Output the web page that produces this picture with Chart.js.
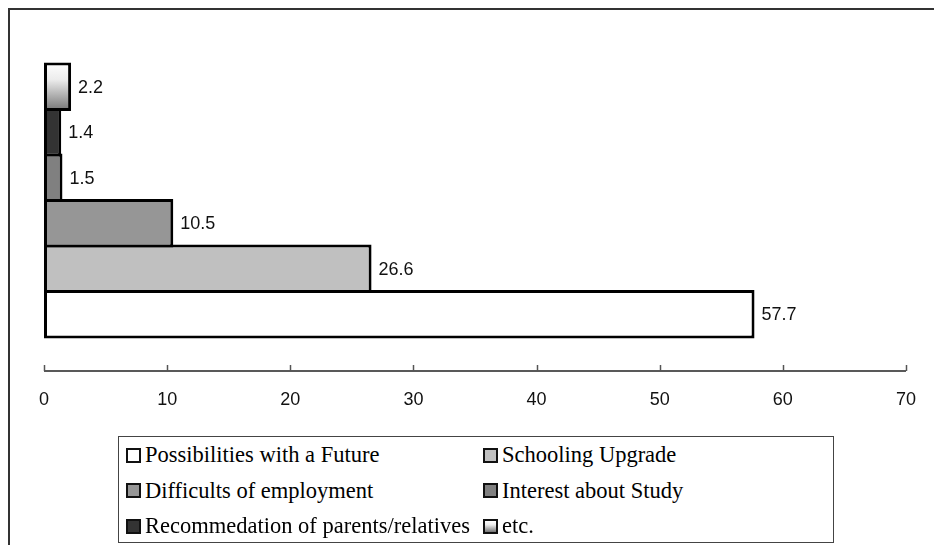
<!DOCTYPE html>
<html>
<head>
<meta charset="utf-8">
<script src="https://cdn.jsdelivr.net/npm/chart.js@4/dist/chart.umd.min.js"></script>
<style>
  html, body { margin: 0; padding: 0; background: #fff; overflow: hidden; }
  #wrap { position: relative; width: 934px; height: 545px; overflow: hidden; background: #fff; }
  #frame { position: absolute; left: 8px; top: 8px; width: 1000px; height: 620px; border: 2px solid #333; box-sizing: border-box; }
  canvas { position: absolute; left: 0; top: 0; }
  #legend { position: absolute; left: 118px; top: 436px; width: 716px; height: 107px; border: 1px solid #444; box-sizing: border-box; background: #fff;
            font-family: "Liberation Serif", "Times New Roman", serif; font-size: 22.5px; color: #000; }
  .item { position: absolute; display: flex; align-items: center; height: 36px; white-space: nowrap; }
  .sw { width: 15px; height: 15px; border: 2px solid #111; box-sizing: border-box; margin-right: 4px; flex: none; }
</style>
</head>
<body>
<div id="wrap">
  <div id="frame"></div>
  <canvas id="c" width="934" height="545"></canvas>
  <div id="legend"></div>
</div>
<script>
// Reasons given, in legend order
const categories = [
  'Possibilities with a Future',
  'Schooling Upgrade',
  'Difficults of employment',
  'Interest about Study',
  'Recommedation of parents/relatives',
  'etc.'
];
// Share of answers (%)
const values = [57.7, 26.6, 10.5, 1.5, 1.4, 2.2];
// Fill per series; "gradient" marks the shaded one
const fills = ['#ffffff', '#c0c0c0', '#969696', '#808080', '#333333', 'gradient'];
// Value axis ticks
const xTicks = [0, 10, 20, 30, 40, 50, 60, 70];

const gradStops = [[0, '#ffffff'], [0.35, '#ececec'], [1, '#747474']];

function gradientFill(context) {
  const el = context.element || context.chart.getDatasetMeta(context.datasetIndex).data[context.dataIndex];
  if (!el || !isFinite(el.y) || !isFinite(el.height)) return '#cccccc';
  const g = context.chart.ctx.createLinearGradient(0, el.y - el.height / 2, 0, el.y + el.height / 2);
  gradStops.forEach(([o, c]) => g.addColorStop(o, c));
  return g;
}

// Datasets listed top to bottom, so the last reason sits on top.
// Bars are a border-width taller than their slot so neighbours share one outline.
const order = categories.map((_, i) => i).reverse();
const datasets = order.map(i => ({
  label: categories[i],
  data: [values[i]],
  backgroundColor: fills[i] === 'gradient' ? gradientFill : fills[i],
  borderColor: '#000',
  borderWidth: 3,
  borderSkipped: false,
  categoryPercentage: 0.8,
  barPercentage: 1.066
}));

const axisAndLabels = {
  id: 'axisAndLabels',
  afterDatasetsDraw(chart) {
    const { ctx, chartArea, scales: { x } } = chart;
    const y0 = chartArea.bottom;
    ctx.save();
    ctx.strokeStyle = '#222';
    ctx.lineWidth = 1.5;
    ctx.beginPath();
    ctx.moveTo(x.getPixelForValue(xTicks[0]), y0);
    ctx.lineTo(x.getPixelForValue(xTicks[xTicks.length - 1]), y0);
    ctx.stroke();
    ctx.strokeStyle = '#555';
    xTicks.forEach(v => {
      const px = Math.round(x.getPixelForValue(v)) + 0.5;
      ctx.beginPath();
      ctx.moveTo(px, y0);
      ctx.lineTo(px, y0 - 6);
      ctx.stroke();
    });
    ctx.font = '18px "Liberation Sans", Arial, sans-serif';
    ctx.fillStyle = '#111';
    ctx.textAlign = 'left';
    ctx.textBaseline = 'middle';
    chart.data.datasets.forEach((ds, i) => {
      const el = chart.getDatasetMeta(i).data[0];
      ctx.fillText(ds.data[0].toFixed(1), el.x + 7, el.y + 1);
    });
    ctx.restore();
  }
};

const chart = new Chart(document.getElementById('c'), {
  type: 'bar',
  data: { labels: [''], datasets },
  options: {
    indexAxis: 'y',
    responsive: false,
    animation: false,
    events: [],
    layout: { padding: { left: 44, right: 25, top: 30, bottom: 0 } },
    plugins: { legend: { display: false }, tooltip: { enabled: false } },
    scales: {
      x: {
        min: xTicks[0],
        max: xTicks[xTicks.length - 1],
        grid: { display: false, drawTicks: false },
        border: { display: false },
        ticks: {
          padding: 18,
          color: '#111',
          maxRotation: 0,
          autoSkip: false,
          font: { family: '"Liberation Sans", Arial, sans-serif', size: 18 }
        },
        afterBuildTicks: s => { s.ticks = xTicks.map(v => ({ value: v })); },
        afterFit: s => { s.height = 174; }
      },
      y: { display: false }
    }
  },
  plugins: [axisAndLabels]
});
// second pass so the shaded bar's gradient follows its final position
chart.update('none');

// Legend: two columns, filled row by row
const legend = document.getElementById('legend');
categories.forEach((name, i) => {
  const item = document.createElement('div');
  item.className = 'item';
  item.style.left = (i % 2 === 0 ? 7 : 364) + 'px';
  item.style.top = (Math.floor(i / 2) * 35.5) + 'px';
  const sw = document.createElement('span');
  sw.className = 'sw';
  sw.style.background = fills[i] === 'gradient'
    ? 'linear-gradient(to bottom, ' + gradStops.map(([o, c]) => c + ' ' + (o * 100) + '%').join(', ') + ')'
    : fills[i];
  const tx = document.createElement('span');
  tx.textContent = name;
  item.appendChild(sw);
  item.appendChild(tx);
  legend.appendChild(item);
});
</script>
</body>
</html>
